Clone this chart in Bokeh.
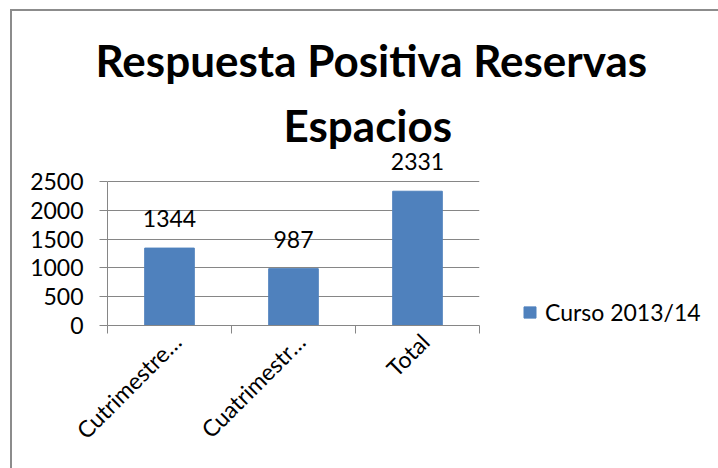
from bokeh.plotting import figure
from bokeh.models import (Range1d, FixedTicker, ColumnDataSource, LabelSet, Title,
                          Legend, LegendItem)
from bokeh.core.properties import value
from bokeh.embed import file_html
from bokeh.resources import INLINE

# ---- data ----
categories = ["Cutrimestre…", "Cuatrimestr…", "Total"]
values = [1344, 987, 2331]
series_name = "Curso 2013/14"
y_ticks = [0, 500, 1000, 1500, 2000, 2500]
title_lines = ["Respuesta Positiva Reservas", "Espacios"]

BAR = "#4F81BD"
GRID = "#868686"
FONT = "Lato"
FS = "23px"

positions = [i + 0.5 for i in range(len(categories))]
label_positions = [x + 0.06 for x in positions]   # rotated labels end slightly right of centre
src = ColumnDataSource(dict(x=positions, top=values, lbl=[str(v) for v in values]))

p = figure(frame_width=372, frame_height=175, output_backend="svg", toolbar_location=None,
           x_range=Range1d(0, len(categories)), y_range=Range1d(0, 3038),
           min_border_left=95, min_border_right=232, min_border_top=139, min_border_bottom=143)
p.outline_line_color = None
p.background_fill_color = "white"
p.border_fill_color = "white"
p.styles = {"margin-left": "10px", "margin-top": "9px",
            "border-top": "2px solid #8C8C8C", "border-left": "2px solid #8C8C8C"}

r = p.vbar(x="x", top="top", width=0.4, source=src, fill_color=BAR, line_color=BAR)

# y axis
p.yaxis.ticker = FixedTicker(ticks=y_ticks)
p.yaxis.bounds = (y_ticks[0], y_ticks[-1])
p.yaxis.axis_line_color = GRID
p.yaxis.major_tick_line_color = GRID
p.yaxis.major_tick_out = 8
p.yaxis.major_tick_in = 0
p.yaxis.minor_tick_line_color = None
p.yaxis.major_label_text_font = FONT
p.yaxis.major_label_text_font_size = FS
p.yaxis.major_label_text_color = "black"
p.yaxis.major_label_standoff = 16
p.ygrid.ticker = FixedTicker(ticks=y_ticks)
p.ygrid.grid_line_color = GRID
p.xgrid.grid_line_color = None

# x axis: labels at category centres, ticks at category boundaries
p.xaxis.ticker = FixedTicker(ticks=label_positions,
                             minor_ticks=list(range(len(categories) + 1)))
p.xaxis.major_label_overrides = {pos: c for pos, c in zip(label_positions, categories)}
p.xaxis.major_tick_line_color = None
p.xaxis.minor_tick_line_color = GRID
p.xaxis.minor_tick_out = 8
p.xaxis.minor_tick_in = 0
p.xaxis.axis_line_color = GRID
p.xaxis.major_label_orientation = 0.785398
p.xaxis.major_label_text_font = FONT
p.xaxis.major_label_text_font_size = FS
p.xaxis.major_label_text_color = "black"
p.xaxis.major_label_standoff = 4

# value labels
labels = LabelSet(x="x", y="top", text="lbl", source=src, y_offset=21,
                  text_align="center", text_baseline="alphabetic",
                  text_font=value(FONT), text_font_size=value(FS), text_color="black")
p.add_layout(labels)

# title (two lines); later-added titles sit farther from the plot area
p.add_layout(Title(text=title_lines[1], align="left", offset=176, text_font=FONT,
                   text_font_style="bold", text_font_size="44px", text_color="black",
                   standoff=0), "above")
p.add_layout(Title(text=title_lines[0], align="left", offset=-12, text_font=FONT,
                   text_font_style="bold", text_font_size="44px", text_color="black",
                   standoff=22), "above")

legend = Legend(items=[LegendItem(label=series_name, renderers=[r])],
                location=(43, -1), padding=0, margin=0, spacing=0,
                glyph_width=15, glyph_height=14, label_standoff=8,
                label_text_font=FONT, label_text_font_size=FS,
                label_text_color="black", border_line_color=None,
                background_fill_alpha=0)
p.add_layout(legend, "right")

open("out.html", "w").write(file_html(p, INLINE))
